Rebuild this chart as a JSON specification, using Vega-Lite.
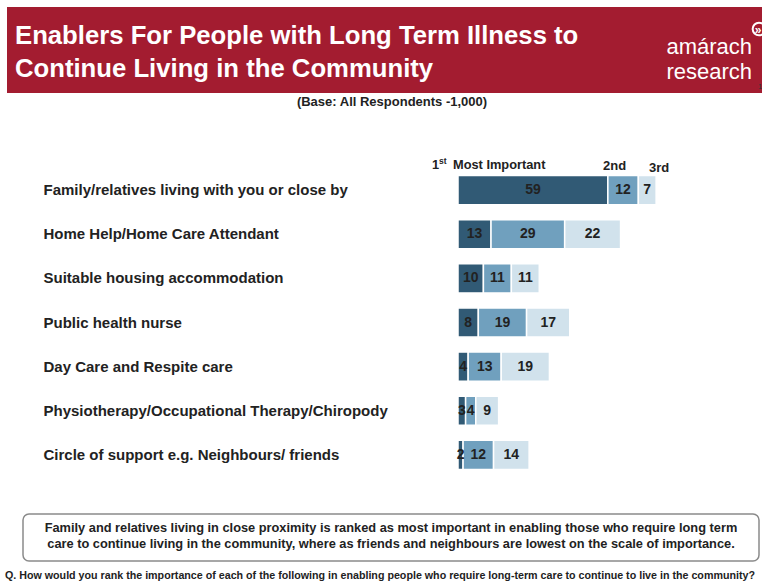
{
  "$schema": "https://vega.github.io/schema/vega-lite/v6.json",
  "width": 762,
  "height": 581,
  "autosize": "none",
  "padding": 0,
  "background": "white",
  "config": {"view": {"stroke": null}, "font": "Liberation Sans"},
  "datasets": {
    "ranks": [
      {"enabler": "Family/relatives living with you or close by", "rank": "1st", "value": 59},
      {"enabler": "Family/relatives living with you or close by", "rank": "2nd", "value": 12},
      {"enabler": "Family/relatives living with you or close by", "rank": "3rd", "value": 7},
      {"enabler": "Home Help/Home Care Attendant", "rank": "1st", "value": 13},
      {"enabler": "Home Help/Home Care Attendant", "rank": "2nd", "value": 29},
      {"enabler": "Home Help/Home Care Attendant", "rank": "3rd", "value": 22},
      {"enabler": "Suitable housing accommodation", "rank": "1st", "value": 10},
      {"enabler": "Suitable housing accommodation", "rank": "2nd", "value": 11},
      {"enabler": "Suitable housing accommodation", "rank": "3rd", "value": 11},
      {"enabler": "Public health nurse", "rank": "1st", "value": 8},
      {"enabler": "Public health nurse", "rank": "2nd", "value": 19},
      {"enabler": "Public health nurse", "rank": "3rd", "value": 17},
      {"enabler": "Day Care and Respite care", "rank": "1st", "value": 4},
      {"enabler": "Day Care and Respite care", "rank": "2nd", "value": 13},
      {"enabler": "Day Care and Respite care", "rank": "3rd", "value": 19},
      {"enabler": "Physiotherapy/Occupational Therapy/Chiropody", "rank": "1st", "value": 3},
      {"enabler": "Physiotherapy/Occupational Therapy/Chiropody", "rank": "2nd", "value": 4},
      {"enabler": "Physiotherapy/Occupational Therapy/Chiropody", "rank": "3rd", "value": 9},
      {"enabler": "Circle of support e.g. Neighbours/ friends", "rank": "1st", "value": 2},
      {"enabler": "Circle of support e.g. Neighbours/ friends", "rank": "2nd", "value": 12},
      {"enabler": "Circle of support e.g. Neighbours/ friends", "rank": "3rd", "value": 14}
    ]
  },
  "layer": [
    {
      "data": {"values": [{}]},
      "mark": {"type": "rect", "x": 7, "x2": 762, "y": 7, "y2": 93, "fill": "#a31c30"},
      "encoding": {}
    },
    {
      "data": {"values": [{}]},
      "mark": {"type": "rule", "x": 6, "x2": 762, "y": 6, "y2": 6, "stroke": "#1a1a1a", "strokeWidth": 1.5},
      "encoding": {}
    },
    {
      "data": {"values": [{}]},
      "mark": {"type": "rule", "x": 6, "x2": 6, "y": 6, "y2": 571, "stroke": "#1a1a1a", "strokeWidth": 1.5},
      "encoding": {}
    },
    {
      "data": {"values": [{}]},
      "mark": {"type": "text", "x": 15, "y": 44, "align": "left", "baseline": "alphabetic", "fontSize": 25.7, "fontWeight": "bold", "fill": "white", "lineHeight": 33, "text": ["Enablers For People with Long Term Illness to", "Continue Living in the Community"]},
      "encoding": {}
    },
    {
      "data": {"values": [{}]},
      "mark": {"type": "text", "x": 752, "y": 54, "align": "right", "baseline": "alphabetic", "fontSize": 22, "fill": "white", "lineHeight": 25, "text": ["amárach", "research"]},
      "encoding": {}
    },
    {
      "data": {"values": [{}]},
      "mark": {"type": "point", "shape": "circle", "x": 759, "y": 29, "size": 160, "filled": false, "stroke": "white", "strokeWidth": 2, "opacity": 1},
      "encoding": {}
    },
    {
      "data": {"values": [{}]},
      "mark": {"type": "text", "x": 758, "y": 30, "align": "center", "baseline": "middle", "fontSize": 12, "fontWeight": "bold", "fill": "white", "text": "»"},
      "encoding": {}
    },
    {
      "data": {"values": [{}]},
      "mark": {"type": "text", "x": 758, "y": 89, "align": "left", "baseline": "alphabetic", "fontSize": 8, "fill": "#333", "text": "1"},
      "encoding": {}
    },
    {
      "data": {"values": [{}]},
      "mark": {"type": "text", "x": 392, "y": 106, "align": "center", "baseline": "alphabetic", "fontSize": 13, "fontWeight": "bold", "fill": "#222", "text": "(Base:  All Respondents -1,000)"},
      "encoding": {}
    },
    {
      "data": {"name": "ranks"},
      "mark": {"type": "bar", "stroke": "white", "strokeWidth": 1.5},
      "encoding": {
        "y": {
          "field": "enabler",
          "type": "nominal",
          "sort": null,
          "scale": {"range": [168, 477], "paddingInner": 0.34, "paddingOuter": 0.17},
          "axis": {"title": null, "domain": false, "ticks": false, "orient": "left", "labelAlign": "left", "labelPadding": -43, "labelFontSize": 15, "labelFontWeight": "bold", "labelColor": "#222", "labelLimit": 0, "labelFont": "Liberation Sans"}
        },
        "x": {"field": "value", "type": "quantitative", "stack": "zero", "scale": {"domain": [0, 100], "range": [458, 712]}, "axis": null},
        "color": {"field": "rank", "type": "nominal", "scale": {"domain": ["1st", "2nd", "3rd"], "range": ["#315a75", "#70a0be", "#d1e2ec"]}, "legend": null},
        "order": {"field": "rank", "type": "nominal", "sort": "ascending"}
      }
    },
    {
      "data": {"name": "ranks"},
      "transform": [
        {"stack": "value", "groupby": ["enabler"], "sort": [{"field": "rank", "order": "ascending"}], "as": ["v0", "v1"]},
        {"calculate": "(datum.v0 + datum.v1) / 2", "as": "vmid"}
      ],
      "mark": {"type": "text", "fontSize": 14, "fontWeight": "bold", "fill": "#222", "baseline": "middle", "align": "center"},
      "encoding": {
        "y": {"field": "enabler", "type": "nominal", "sort": null},
        "x": {"field": "vmid", "type": "quantitative"},
        "text": {"field": "value", "type": "quantitative"}
      }
    },
    {
      "data": {"values": [{}]},
      "mark": {"type": "text", "x": 432, "y": 169, "align": "left", "baseline": "alphabetic", "fontSize": 12.8, "fontWeight": "bold", "fill": "#222", "text": "1"},
      "encoding": {}
    },
    {
      "data": {"values": [{}]},
      "mark": {"type": "text", "x": 439, "y": 164, "align": "left", "baseline": "alphabetic", "fontSize": 8.5, "fontWeight": "bold", "fill": "#222", "text": "st"},
      "encoding": {}
    },
    {
      "data": {"values": [{}]},
      "mark": {"type": "text", "x": 453, "y": 169, "align": "left", "baseline": "alphabetic", "fontSize": 12.8, "fontWeight": "bold", "fill": "#222", "text": "Most Important"},
      "encoding": {}
    },
    {
      "data": {"values": [{}]},
      "mark": {"type": "text", "x": 603, "y": 170, "align": "left", "baseline": "alphabetic", "fontSize": 13, "fontWeight": "bold", "fill": "#222", "text": "2nd"},
      "encoding": {}
    },
    {
      "data": {"values": [{}]},
      "mark": {"type": "text", "x": 649, "y": 172, "align": "left", "baseline": "alphabetic", "fontSize": 13, "fontWeight": "bold", "fill": "#222", "text": "3rd"},
      "encoding": {}
    },
    {
      "data": {"values": [{}]},
      "mark": {"type": "rect", "x": 23, "x2": 759, "y": 514, "y2": 561, "cornerRadius": 6, "fill": "white", "stroke": "#8a8a8a", "strokeWidth": 1.5},
      "encoding": {}
    },
    {
      "data": {"values": [{}]},
      "mark": {"type": "text", "x": 391, "y": 532, "align": "center", "baseline": "alphabetic", "fontSize": 12.8, "fontWeight": "bold", "fill": "#222", "lineHeight": 16, "text": ["Family and relatives living in close proximity is ranked as most important in enabling those who require long term", "care to continue living in the community, where as friends and neighbours are lowest on the scale of importance."]},
      "encoding": {}
    },
    {
      "data": {"values": [{}]},
      "mark": {"type": "text", "x": 5, "y": 579, "align": "left", "baseline": "alphabetic", "fontSize": 10.7, "fontWeight": "bold", "fill": "#222", "text": "Q. How would you rank the importance of each of the following in enabling people who require long-term care to continue to live in the community?"},
      "encoding": {}
    }
  ]
}
